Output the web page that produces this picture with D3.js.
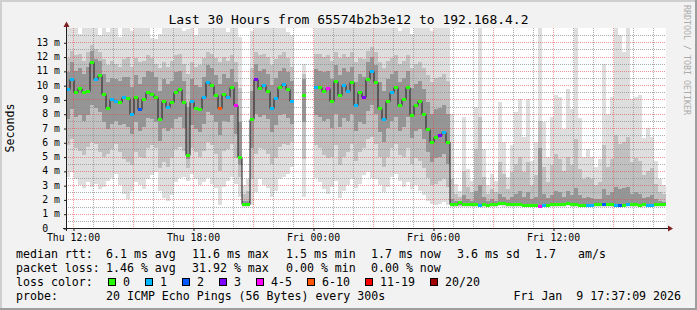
<!DOCTYPE html>
<html>
<head>
<meta charset="utf-8">
<script src="https://d3js.org/d3.v7.min.js"></script>
<style>
  body { margin: 0; background: #f2f2f2; }
  svg { display: block; }
  text { font-family: "DejaVu Sans Mono", monospace; }
</style>
</head>
<body>
<script>
// last 30 hours, one slot per 12 minutes (150 slots), values in ms
var startTime = new Date(2026, 0, 8, 11, 39),
   endTime = new Date(2026, 0, 9, 17, 39),
   stepMinutes = 12;

var median = [
   9.7, 10.4, 9.5, 9.8, 9.5, 9.6, 11.6, 10.4, 10.7, 9.4,
   8.4, 9.0, 8.9, 8.8, 9.2, 9.1, 8.0, 9.2, 8.3, 9.0,
   9.5, 9.4, 9.2, 7.6, 8.9, 8.5, 8.8, 9.5, 9.7, 8.8,
   5.1, 8.9, 8.4, 8.3, 9.2, 10.2, 10.0, 9.3, 8.4, 9.4,
   9.2, 9.9, 8.6, 5.0, 1.7, 1.7, 7.6, 10.4, 9.8, 10.0,
   9.6, 8.4, 9.1, 9.9, 10.1, 9.7, 8.9, null, null, 9.3,
   null, null, 9.9, 9.9, 9.6, 9.8, 8.9, 10.3, 9.3, 10.0,
   9.6, 10.2, 8.6, 9.5, 9.2, 10.4, 11.0, 10.2, 8.4, 7.6,
   8.9, 9.5, 9.9, 8.6, 9.0, 9.9, 7.9, 8.6, 8.9, 8.0,
   6.9, 6.0, 6.4, 6.5, 6.7, 6.0, 1.7, 1.68, 1.8, 1.7,
   1.66, 1.65, 1.68, 1.64, 1.66, 1.63, 1.65, 1.7, 1.75, 1.74,
   1.7, 1.67, 1.65, 1.66, 1.64, 1.63, 1.62, 1.6, 1.56, 1.6,
   1.64, 1.66, 1.68, 1.66, 1.7, 1.72, 1.68, 1.66, 1.64, 1.62,
   1.6, 1.62, 1.66, 1.7, 1.68, 1.66, 1.65, 1.62, 1.6, 1.63,
   1.66, 1.68, 1.66, 1.64, 1.66, 1.62, 1.63, 1.66, 1.68, 1.66
];

// lost pings out of 20 for each slot
var loss = [
   1, 1, 0, 0, 0, 0, 0, 1, 0, 0,
   0, 1, 1, 0, 1, 0, 1, 0, 2, 0,
   0, 0, 0, 0, 0, 1, 0, 0, 0, 0,
   0, 1, 0, 0, 1, 1, 0, 0, 7, 0,
   1, 0, 4, 0, 0, 0, 0, 3, 0, 1,
   0, 1, 1, 0, 1, 0, 1, 0, 0, 0,
   0, 0, 1, 0, 0, 4, 0, 0, 0, 1,
   1, 0, 1, 0, 3, 0, 1, 0, 0, 1,
   0, 1, 0, 0, 0, 0, 0, 0, 0, 0,
   0, 0, 0, 3, 1, 0, 0, 0, 0, 0,
   0, 0, 0, 1, 0, 0, 0, 0, 0, 0,
   0, 0, 0, 0, 0, 0, 0, 0, 4, 1,
   0, 0, 0, 0, 0, 0, 0, 0, 0, 0,
   1, 1, 0, 0, 2, 0, 0, 1, 2, 0,
   1, 0, 0, 0, 0, 1, 1, 0, 0, 0
];

// smoke: spread of the 20 pings in each slot
var pingMin = [
   3.6, 3.9, 3.4, 3.0, 2.8, 3.2, 2.9, 3.1, 2.7, 2.9,
   3.3, 3.5, 3.8, 3.0, 2.4, 2.0, 2.6, 3.2, 3.0, 2.7,
   3.4, 3.7, 3.9, 2.6, 2.1, 1.9, 2.3, 3.2, 3.5, 3.6,
   3.3, 3.8, 3.4, 3.0, 3.2, 3.5, 3.1, 2.8, 1.6, 2.9,
   3.3, 3.6, 3.1, 2.2, 1.5, 1.5, 1.6, 2.5, 3.4, 3.0,
   2.8, 2.2, 2.6, 3.4, 3.6, 3.8, 4.3, null, null, 2.2,
   null, null, 3.5, 3.2, 2.7, 2.4, 2.9, 3.3, 2.1, 2.6,
   3.0, 3.4, 2.8, 3.1, 3.7, 3.9, 3.5, 3.4, 3.0, 2.5,
   2.9, 3.6, 3.8, 3.3, 2.9, 3.2, 2.7, 3.0, 2.6, 2.3,
   1.9, 1.7, 1.6, 1.7, 1.8, 1.6, 1.5, 1.48, 1.5, 1.47,
   1.48, 1.47, 1.49, 1.46, 1.48, 1.47, 1.48, 1.5, 1.52, 1.5,
   1.49, 1.48, 1.47, 1.48, 1.47, 1.46, 1.46, 1.45, 1.42, 1.45,
   1.47, 1.48, 1.5, 1.48, 1.5, 1.52, 1.49, 1.48, 1.47, 1.46,
   1.45, 1.46, 1.48, 1.5, 1.49, 1.48, 1.47, 1.46, 1.45, 1.46,
   1.48, 1.5, 1.48, 1.47, 1.48, 1.46, 1.46, 1.48, 1.5, 1.49
];
var ping10 = [
   5.8, 6.2, 5.6, 5.4, 5.1, 5.7, 6.0, 5.9, 5.3, 5.0,
   5.2, 5.5, 5.9, 5.3, 4.8, 4.6, 4.4, 5.3, 5.0, 4.9,
   5.6, 5.8, 5.6, 4.2, 4.6, 4.3, 4.9, 5.5, 5.7, 5.4,
   4.2, 5.6, 5.3, 5.0, 5.4, 6.0, 5.8, 5.2, 4.0, 5.4,
   5.5, 5.9, 4.9, 3.6, 1.55, 1.55, 3.4, 5.2, 5.6, 5.5,
   5.2, 4.5, 4.9, 5.7, 5.9, 5.8, 6.0, null, null, 4.8,
   null, null, 5.8, 5.6, 5.1, 4.9, 5.0, 5.8, 4.4, 5.0,
   5.3, 5.9, 4.7, 5.3, 5.6, 6.2, 6.4, 5.9, 5.0, 4.3,
   5.0, 5.6, 5.9, 5.1, 5.0, 5.6, 4.5, 4.9, 4.7, 4.2,
   3.5, 3.0, 3.1, 3.3, 3.4, 2.9, 1.55, 1.54, 1.56, 1.55,
   1.55, 1.54, 1.56, 1.55, 1.55, 1.54, 1.55, 1.57, 1.6, 1.58,
   1.56, 1.55, 1.54, 1.55, 1.54, 1.53, 1.53, 1.52, 1.5, 1.53,
   1.55, 1.56, 1.57, 1.56, 1.58, 1.6, 1.57, 1.55, 1.54, 1.53,
   1.52, 1.53, 1.56, 1.58, 1.57, 1.56, 1.55, 1.53, 1.52, 1.54,
   1.55, 1.57, 1.56, 1.54, 1.55, 1.53, 1.54, 1.56, 1.57, 1.56
];
var ping25 = [
   7.6, 8.3, 7.8, 7.9, 7.5, 7.9, 8.6, 8.4, 8.1, 7.4,
   6.9, 7.3, 7.5, 7.2, 7.3, 7.1, 6.6, 7.4, 6.8, 7.1,
   7.7, 7.6, 7.4, 6.1, 7.0, 6.8, 7.0, 7.6, 7.8, 7.0,
   4.8, 7.2, 6.9, 6.7, 7.3, 8.1, 7.9, 7.4, 6.5, 7.5,
   7.4, 7.9, 6.6, 4.4, 1.6, 1.6, 5.6, 8.0, 7.8, 7.9,
   7.6, 6.7, 7.2, 7.9, 8.0, 7.7, 7.3, null, null, 7.4,
   null, null, 7.9, 7.8, 7.5, 7.6, 7.0, 8.0, 7.1, 7.7,
   7.5, 8.0, 6.8, 7.4, 7.3, 8.2, 8.6, 8.0, 6.7, 6.0,
   7.0, 7.5, 7.8, 6.8, 7.1, 7.8, 6.3, 6.8, 6.9, 6.2,
   5.3, 4.6, 4.9, 5.0, 5.2, 4.5, 1.62, 1.6, 1.62, 1.61,
   1.6, 1.6, 1.61, 1.6, 1.6, 1.59, 1.6, 1.62, 1.65, 1.64,
   1.62, 1.61, 1.6, 1.6, 1.6, 1.59, 1.58, 1.57, 1.54, 1.57,
   1.6, 1.61, 1.62, 1.61, 1.63, 1.65, 1.62, 1.61, 1.6, 1.58,
   1.57, 1.58, 1.61, 1.63, 1.62, 1.61, 1.6, 1.58, 1.57, 1.59,
   1.61, 1.62, 1.61, 1.6, 1.61, 1.58, 1.59, 1.61, 1.62, 1.61
];
var ping75 = [
   10.9, 11.6, 11.0, 11.2, 10.8, 11.3, 12.4, 11.8, 11.7, 10.8,
   10.2, 10.5, 10.4, 10.3, 10.6, 10.6, 9.9, 10.7, 10.1, 10.6,
   11.0, 10.9, 10.6, 9.6, 10.4, 10.1, 10.3, 10.9, 11.0, 10.3,
   8.5, 10.4, 10.0, 9.9, 10.6, 11.4, 11.2, 10.7, 10.1, 10.8,
   10.5, 11.1, 10.2, 7.4, 1.9, 1.9, 9.6, 11.5, 11.0, 11.1,
   10.8, 10.0, 10.5, 11.0, 11.2, 10.9, 10.3, null, null, 10.4,
   null, null, 11.1, 11.0, 10.9, 11.0, 10.4, 11.4, 10.7, 11.2,
   10.9, 11.3, 10.2, 10.8, 10.6, 11.6, 12.0, 11.4, 10.2, 9.6,
   10.4, 10.8, 11.0, 10.2, 10.5, 11.0, 9.8, 10.1, 10.3, 9.7,
   8.8, 8.0, 8.3, 8.4, 8.6, 8.0, 2.0, 1.9, 1.85, 2.3,
   2.0, 1.9, 2.6, 3.0, 2.2, 1.9, 2.0, 1.9, 2.4, 2.2,
   1.95, 2.2, 2.4, 2.6, 2.2, 2.5, 2.0, 2.2, 5.6, 2.4,
   2.1, 2.3, 2.6, 2.5, 2.2, 2.6, 2.3, 2.8, 2.3, 2.1,
   2.2, 2.1, 2.0, 2.0, 2.7, 2.3, 2.5, 2.9, 2.7, 2.8,
   2.9, 2.4, 2.5, 2.4, 2.1, 2.2, 2.3, 2.0, 1.9, 1.85
];
var ping90 = [
   11.9, 12.4, 12.1, 12.2, 11.7, 12.3, 12.8, 12.5, 12.3, 11.8,
   11.4, 11.7, 11.5, 11.3, 11.8, 12.0, 11.3, 11.9, 11.6, 11.7,
   12.1, 11.9, 11.5, 11.2, 11.6, 11.3, 11.7, 12.1, 12.2, 11.5,
   10.8, 11.6, 11.3, 11.4, 11.9, 12.3, 12.2, 11.9, 11.6, 12.0,
   11.7, 12.1, 11.6, 9.8, 2.4, 2.6, 11.2, 12.3, 12.1, 12.2,
   12.0, 11.4, 11.8, 12.1, 12.3, 11.9, 11.3, null, null, 10.8,
   null, null, 12.2, 12.2, 12.0, 12.1, 11.7, 12.3, 11.9, 12.2,
   12.0, 12.3, 11.6, 11.9, 11.8, 12.4, 12.7, 12.3, 11.6, 11.2,
   11.7, 11.9, 12.1, 11.5, 11.7, 12.1, 11.2, 11.5, 11.6, 11.2,
   10.7, 10.2, 10.5, 10.6, 10.8, 10.3, 3.4, 2.4, 2.2, 4.0,
   2.9, 2.5, 5.5, 7.8, 3.6, 2.4, 2.7, 2.5, 4.6, 3.8,
   2.7, 3.9, 4.5, 5.0, 3.9, 4.6, 3.0, 3.7, 7.5, 4.3,
   3.2, 4.4, 5.2, 4.8, 4.0, 5.0, 4.4, 6.2, 4.1, 3.4,
   3.6, 3.4, 3.0, 3.2, 5.8, 4.3, 4.8, 6.5, 5.9, 6.0,
   6.4, 4.6, 4.9, 4.7, 3.7, 4.0, 4.2, 3.1, 2.5, 2.4
];
var pingMax = [
   14, 14, 14, 13.6, 14, 14, 14, 14, 13.5, 14,
   13.7, 14, 14, 13.4, 14, 14, 13.8, 14, 14, 14,
   14, 13.3, 13.2, 13.6, 14, 14, 14, 14, 14, 13.8,
   13.9, 14, 13.5, 14, 14, 14, 14, 14, 14, 14,
   13.7, 14, 14, 13.4, 3.0, 3.4, 13.8, 14, 14, 14,
   14, 14, 14, 14, 14, 13.7, 13.5, null, null, 11.5,
   null, null, 14, 14, 14, 14, 14, 14, 14, 14,
   14, 14, 14, 14, 14, 14, 14, 14, 14, 14,
   14, 14, 14, 13.8, 14, 14, 13.6, 14, 14, 14,
   14, 13.8, 14, 14, 14, 14, 8.0, 3.1, 2.6, 7.8,
   4.1, 3.3, 8.5, 14, 5.5, 3.0, 3.8, 3.3, 8.8, 6.0,
   3.6, 5.8, 8.1, 9.0, 6.4, 9.0, 4.7, 6.0, 14, 7.4,
   5.0, 7.8, 9.3, 9.2, 6.9, 9.7, 8.3, 14, 7.7, 5.0,
   5.5, 5.0, 4.3, 4.8, 11.5, 8.0, 9.2, 14, 13.5, 12.3,
   14, 9.0, 9.2, 9.3, 6.3, 7.0, 6.4, 4.7, 3.4, 3.0
];

var lossLabels = ["0", "1", "2", "3", "4-5", "6-10", "11-19", "20/20"];
var lossColors = ["#26ff00", "#00b8ff", "#0059ff", "#7e00ff", "#ff00ff", "#ff5500", "#ff0000", "#a00000"];

var rttStats = ["6.1 ms avg", "11.6 ms max", "1.5 ms min", "1.7 ms now", "3.6 ms sd", "1.7", "am/s"];
var lossStats = ["1.46 % avg", "31.92 % max", "0.00 % min", "0.00 % now"];
var statX = [106, 192, 286, 371, 457, 535, 578];

var titleText = "Last 30 Hours from 65574b2b3e12 to 192.168.4.2",
   probeText = "20 ICMP Echo Pings (56 Bytes) every 300s",
   stampText = "Fri Jan  9 17:37:09 2026";

var margin = { top: 28, left: 66 },
   width = 600,
   height = 200;

var x = d3.scaleTime().domain([startTime, endTime]).range([0, width]);
var y = d3.scaleLinear().domain([0, 14]).range([height, 0]).clamp(true);

function slotTime(i) {
   return d3.timeMinute.offset(startTime, i * stepMinutes);
}
function lossIndex(n) {
   if (n <= 3) return n;
   if (n <= 5) return 4;
   if (n <= 10) return 5;
   if (n <= 19) return 6;
   return 7;
}
var slots = d3.range(median.length);

var svg = d3
   .select("body")
   .append("svg")
   .attr("width", 697)
   .attr("height", 310);

// rrdtool style background with shaded frame
svg.append("rect").attr("width", 697).attr("height", 310).attr("fill", "#f2f2f2");
svg.append("path").attr("d", "M0,0H697V2H2V310H0Z").attr("fill", "#cfcfcf");
svg.append("path").attr("d", "M697,0V310H0V308H695V0Z").attr("fill", "#9e9e9e");

svg.append("text")
   .attr("x", 348.5)
   .attr("y", 24)
   .attr("text-anchor", "middle")
   .style("font-size", "13px")
   .text(titleText);

svg.append("text")
   .attr("transform", "translate(14,128) rotate(-90)")
   .attr("text-anchor", "middle")
   .style("font-size", "11.6px")
   .text("Seconds");

svg.append("text")
   .attr("transform", "translate(684,5) rotate(90)")
   .attr("fill", "#ababab")
   .style("font-size", "8.3px")
   .text("RRDTOOL / TOBI OETIKER");

var plot = svg.append("g").attr("transform", "translate(" + margin.left + "," + margin.top + ")");

plot.append("rect").attr("width", width).attr("height", height).attr("fill", "#fff");

// smoke bands, widest first
var bands = [
   { lo: pingMin, hi: pingMax, color: "#dedede" },
   { lo: ping10, hi: ping90, color: "#c0c0c0" },
   { lo: ping25, hi: ping75, color: "#959595" }
];
bands.forEach(function(b) {
   plot.append("g")
      .selectAll("rect")
      .data(slots.filter(function(i) { return b.lo[i] != null; }))
      .enter()
      .append("rect")
      .attr("shape-rendering", "crispEdges")
      .attr("x", function(i) { return x(slotTime(i)); })
      .attr("width", function(i) { return x(slotTime(i + 1)) - x(slotTime(i)); })
      .attr("y", function(i) { return y(b.hi[i]); })
      .attr("height", function(i) { return y(b.lo[i]) - y(b.hi[i]); })
      .attr("fill", b.color);
});

// grid (dotted, drawn over the smoke like rrdtool does)
var grid = plot.append("g").attr("stroke-dasharray", "1,1").attr("stroke-width", 1);
var minorY = d3.range(0.5, 14, 1),
   majorY = d3.range(1, 14);
var minorX = x.ticks(d3.timeHour.every(1)).filter(function(d) { return d.getHours() % 3 !== 0; }),
   majorX = x.ticks(d3.timeHour.every(3));

function hLines(vals, color) {
   grid.selectAll(null)
      .data(vals)
      .enter()
      .append("line")
      .attr("x1", 0)
      .attr("x2", width)
      .attr("y1", function(d) { return Math.round(y(d)) + 0.5; })
      .attr("y2", function(d) { return Math.round(y(d)) + 0.5; })
      .attr("stroke", color);
}
function vLines(vals, color) {
   grid.selectAll(null)
      .data(vals)
      .enter()
      .append("line")
      .attr("y1", 0)
      .attr("y2", height)
      .attr("x1", function(d) { return Math.round(x(d)) + 0.5; })
      .attr("x2", function(d) { return Math.round(x(d)) + 0.5; })
      .attr("stroke", color);
}
hLines(minorY, "rgba(143,143,143,0.75)");
vLines(minorX, "rgba(143,143,143,0.75)");
hLines(majorY, "rgba(222,79,79,0.6)");
vLines(majorX, "rgba(222,79,79,0.6)");

// median: thin dark step line plus a coloured block per slot
var medianLine = d3
   .line()
   .defined(function(i) { return median[i] != null; })
   .curve(d3.curveStep)
   .x(function(i) { return x(slotTime(i)) + 2; })
   .y(function(i) { return Math.round(y(median[i])) + 0.5; });

plot.append("path")
   .datum(slots)
   .attr("d", medianLine)
   .attr("fill", "none")
   .attr("stroke", "#1e1e1e")
   .attr("stroke-width", 1);

plot.append("g")
   .selectAll("rect")
   .data(slots.filter(function(i) { return median[i] != null; }))
   .enter()
   .append("rect")
   .attr("shape-rendering", "crispEdges")
   .attr("x", function(i) { return x(slotTime(i)); })
   .attr("width", function(i) { return x(slotTime(i + 1)) - x(slotTime(i)); })
   .attr("y", function(i) { return Math.round(y(median[i])) - 1; })
   .attr("height", 3)
   .attr("fill", function(i) { return lossColors[lossIndex(loss[i])]; });

// axes
var yAxis = d3
   .axisLeft(y)
   .tickValues(d3.range(0, 14))
   .tickSize(2)
   .tickPadding(4)
   .tickFormat(function(d) { return d === 0 ? "0" : d + " m"; });

var yg = plot.append("g").call(yAxis);
yg.select(".domain").remove();
yg.selectAll("text")
   .attr("dx", function(d) { return d === 0 ? "-1.2em" : null; })
   .style("font-family", "DejaVu Sans Mono")
   .style("font-size", "9.8px");
yg.selectAll("line").attr("stroke", "#1f1f1f").attr("transform", "translate(0,0.5)");

var xAxis = d3
   .axisBottom(x)
   .ticks(d3.timeHour.every(6))
   .tickSize(3)
   .tickPadding(3)
   .tickFormat(d3.timeFormat("%a %H:%M"));

var xg = plot.append("g").attr("transform", "translate(0," + height + ")").call(xAxis);
xg.select(".domain").remove();
xg.selectAll("text")
   .style("font-family", "DejaVu Sans Mono")
   .style("font-size", "9.8px");
xg.selectAll("line").attr("stroke", "#1f1f1f").attr("transform", "translate(0.5,0)");

// axis lines with rrdtool arrows
plot.append("line")
   .attr("x1", -3).attr("x2", width + 2)
   .attr("y1", height + 0.5).attr("y2", height + 0.5)
   .attr("stroke", "#1f1f1f");
plot.append("line")
   .attr("x1", 0.5).attr("x2", 0.5)
   .attr("y1", height + 3).attr("y2", -1)
   .attr("stroke", "#1f1f1f");
plot.append("path")
   .attr("d", "M" + (width + 2) + "," + (height - 2.5) + "L" + (width + 7) + "," + (height + 0.5) + "L" + (width + 2) + "," + (height + 3.5) + "Z")
   .attr("fill", "#801f1f");
plot.append("path")
   .attr("d", "M-2.5,-1L0.5,-6.5L3.5,-1Z")
   .attr("fill", "#801f1f");

// legend
var legend = svg.append("g").style("font-size", "11.6px").style("white-space", "pre");

function row(label, items, yPos) {
   legend.append("text").attr("x", 16).attr("y", yPos).text(label);
   legend.selectAll(null)
      .data(items)
      .enter()
      .append("text")
      .attr("x", function(d, i) { return statX[i]; })
      .attr("y", yPos)
      .text(function(d) { return d; });
}
row("median rtt:", rttStats, 258);
row("packet loss:", lossStats, 272);

legend.append("text").attr("x", 16).attr("y", 286).text("loss color:");
var swatchX = [];
lossLabels.reduce(function(pos, lbl) {
   swatchX.push(pos);
   return pos + 30 + 7 * lbl.length;
}, 108);

var sw = legend.selectAll(null).data(lossLabels).enter().append("g");
sw.append("rect")
   .attr("x", function(d, i) { return swatchX[i] + 0.5; })
   .attr("y", 278.5)
   .attr("width", 7)
   .attr("height", 7)
   .attr("fill", function(d, i) { return lossColors[i]; })
   .attr("stroke", "#000");
sw.append("text")
   .attr("x", function(d, i) { return swatchX[i] + 15; })
   .attr("y", 286)
   .text(function(d) { return d; });

legend.append("text").attr("x", 16).attr("y", 300).text("probe:");
legend.append("text").attr("x", 106).attr("y", 300).text(probeText);
legend.append("text")
   .attr("x", 681)
   .attr("y", 300)
   .attr("text-anchor", "end")
   .attr("xml:space", "preserve")
   .text(stampText);
</script>
</body>
</html>
